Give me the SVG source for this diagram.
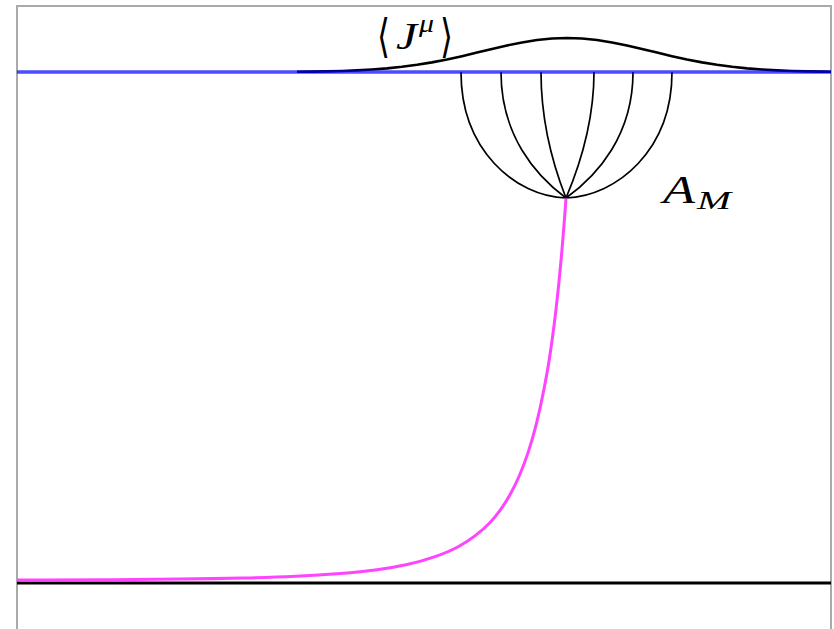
<svg xmlns="http://www.w3.org/2000/svg" width="834" height="629" viewBox="0 0 834 629">
<style>
.frame{fill:none;stroke:#aaaaaa;stroke-width:2}
.fan{fill:none;stroke:#000;stroke-width:1.7}
.math{font-family:"Liberation Serif","DejaVu Serif",serif;fill:#000}
.it{font-style:italic}
.br{font-family:"DejaVu Sans","DejaVu Serif",sans-serif;fill:#000}
</style>
<rect x="0" y="0" width="834" height="629" fill="#fff"/>
<g id="frame">
<path class="frame" d="M17,629 V6 H831 V629"/>
</g>
<g id="bulk-bottom">
<line x1="17" y1="583" x2="831" y2="583" stroke="#000" stroke-width="3"/>
</g>
<g id="current-profile">
<path fill="none" stroke="#000" stroke-width="2.6" stroke-linejoin="round" d="M297,71.78 L312,71.62 L327,71.37 L342,70.98 L357,70.39 L372,69.55 L387,68.39 L402,66.83 L417,64.83 L432,62.37 L447,59.45 L462,56.15 L477,52.59 L492,48.96 L507,45.5 L522,42.45 L537,40.05 L552,38.52 L567,38 L582,38.52 L597,40.05 L612,42.45 L627,45.5 L642,48.96 L657,52.59 L672,56.15 L687,59.45 L702,62.37 L717,64.83 L732,66.83 L747,68.39 L762,69.55 L777,70.39 L792,70.98 L807,71.37 L822,71.62 L831,71.75"/>
</g>
<g id="fan">
<path class="fan" d="M461,72 C461,150 515,196 566,198"/>
<path class="fan" d="M501,72 C501,135 535,175 566,198"/>
<path class="fan" d="M541,72 C541,120 553,165 566,198"/>
<path class="fan" d="M594,72 C594,120 580,165 566,198"/>
<path class="fan" d="M633,72 C633,135 598,175 566,198"/>
<path class="fan" d="M672,72 C672,150 617,196 566,198"/>
</g>
<g id="boundary">
<line x1="17" y1="72" x2="831" y2="72" stroke="rgb(0,0,255)" stroke-opacity="0.7" stroke-width="3.5"/>
</g>
<g id="connectors">
<path id="bulk-curve" fill="none" stroke="#ff44ff" stroke-width="3" stroke-linejoin="round" d="M566,198.4 L564.64,216.6 Q563.28,234.8 561.85,251.2 Q560.41,267.6 558.9,282.5 Q557.4,297.4 555.83,310.85 Q554.25,324.3 552.6,336.5 Q550.95,348.7 549.23,359.75 Q547.51,370.8 543.85,389.8 Q540.19,408.8 536.25,424.35 Q532.3,439.9 528.07,452.6 Q523.83,465.3 519.31,475.75 Q514.79,486.2 509.98,494.75 Q505.17,503.3 500.07,510.3 Q494.97,517.3 489.59,523 Q484.2,528.7 475.58,535.4 Q466.96,542.1 457.7,547.05 Q448.43,552 435.07,556.7 Q421.7,561.4 407.19,564.55 Q392.67,567.7 377,569.8 Q361.33,571.9 340.13,573.55 Q318.92,575.2 295.92,576.25 Q272.91,577.3 242.93,578 Q212.95,578.7 180.38,579.1 Q147.8,579.5 112.65,579.7 Q77.5,579.9 47.25,580 L17,580.1"/>
</g>
<g id="label-J">
<text class="br" x="377" y="52" font-size="46" textLength="13" lengthAdjust="spacingAndGlyphs">⟨</text>
<text class="math it" x="396" y="49" font-size="38" textLength="21" lengthAdjust="spacingAndGlyphs">J</text>
<text class="math it" x="419" y="32" font-size="25" textLength="15" lengthAdjust="spacingAndGlyphs">μ</text>
<text class="br" x="440" y="52" font-size="46" textLength="13" lengthAdjust="spacingAndGlyphs">⟩</text>
</g>
<g id="label-AM">
<text class="math it" x="663" y="203" font-size="40" textLength="32" lengthAdjust="spacingAndGlyphs">A</text>
<text class="math it" x="697" y="209" font-size="26" textLength="34" lengthAdjust="spacingAndGlyphs">M</text>
</g>
</svg>
